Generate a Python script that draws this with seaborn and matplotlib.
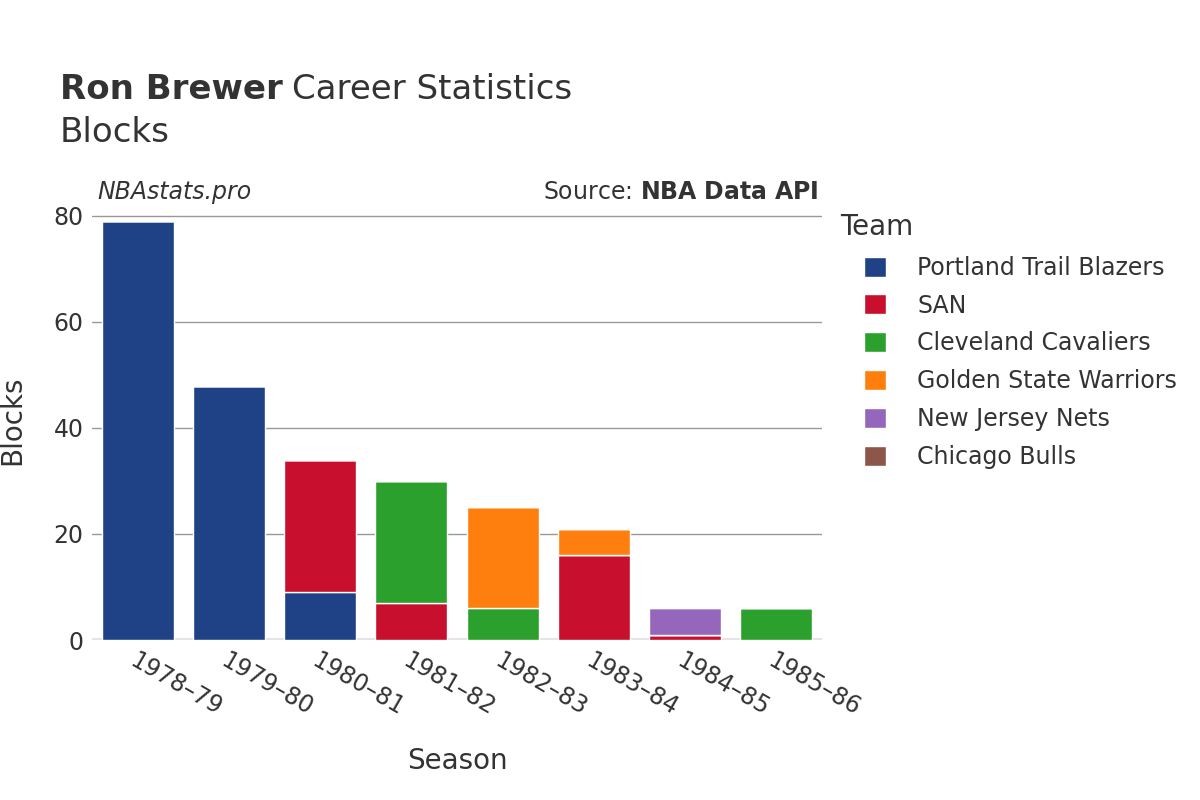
import numpy as np
import matplotlib.pyplot as plt
import seaborn as sns
from matplotlib.patches import Patch

seasons = ['1978–79', '1979–80', '1980–81', '1981–82', '1982–83', '1983–84', '1984–85', '1985–86']
teams = ['Portland Trail Blazers', 'SAN', 'Cleveland Cavaliers', 'Golden State Warriors',
         'New Jersey Nets', 'Chicago Bulls']
colors = ['#1f4287', '#c8102e', '#2ca02c', '#ff7f0e', '#9467bd', '#8c564b']

portland = [79, 48, 9, 0, 0, 0, 0, 0]
san = [0, 0, 25, 7, 0, 16, 1, 0]
cleveland = [0, 0, 0, 23, 6, 0, 0, 6]
golden_state = [0, 0, 0, 0, 19, 5, 0, 0]
new_jersey = [0, 0, 0, 0, 0, 0, 5, 0]
chicago = [0, 0, 0, 0, 0, 0, 0, 0]
series = [portland, san, cleveland, golden_state, new_jersey, chicago]

sns.set_style('white')
plt.rcParams['font.family'] = ['DejaVu Sans']
txt = '#333333'

fig = plt.figure(figsize=(12, 8), dpi=100)
ax = fig.add_axes([0.0767, 0.2, 0.6083, 0.55])

bottom = np.zeros(len(seasons))
for vals, col in zip(series, colors):
    sns.barplot(x=seasons, y=vals, bottom=bottom, color=col, width=0.79,
                edgecolor='white', linewidth=1, ax=ax, saturation=1)
    bottom += np.array(vals)

ax.set_ylim(0, 83)
ax.set_xlim(-0.5, len(seasons) - 0.5)
ax.set_yticks([0, 20, 40, 60, 80])
for y in [20, 40, 60, 80]:
    ax.axhline(y, color='#999999', lw=1, zorder=0)
ax.axhline(0, color='#e5e5e5', lw=3, zorder=0)
for s in ax.spines.values():
    s.set_visible(False)
ax.tick_params(axis='both', length=0, labelsize=17, colors=txt, pad=6)
plt.setp(ax.get_xticklabels(), rotation=-30, ha='left', rotation_mode='anchor')
ax.set_xlabel('Season', fontsize=20, color=txt, labelpad=19)
ax.set_ylabel('Blocks', fontsize=20, color=txt, labelpad=20)

t1 = fig.text(0.05, 0.888, 'Ron Brewer', fontsize=24.5, fontweight='bold', color=txt, va='center')
fig.canvas.draw()
bb = t1.get_window_extent()
fig.text((bb.x1 + 9) / 1200, 0.888, 'Career Statistics', fontsize=24.5, color=txt, va='center')
fig.text(0.05, 0.835, 'Blocks', fontsize=24.5, color=txt, va='center')
fig.text(0.081, 0.76, 'NBAstats.pro', fontsize=17, style='italic', color=txt, va='center')
fig.text(0.682, 0.76, 'Source: $\\mathbf{NBA\\ Data\\ API}$', fontsize=17, color=txt,
         va='center', ha='right')

# legend
fig.text(0.7, 1 - 227 / 800, 'Team', fontsize=20, color=txt, va='center')
handles = [Patch(facecolor=c, label=t) for t, c in zip(teams, colors)]
leg = fig.legend(handles=handles, loc='upper left', bbox_to_anchor=(0.706, 0.701),
                 frameon=False, fontsize=17, handlelength=0.93,
                 handleheight=0.93, handletextpad=1.33, labelspacing=0.585, borderpad=0.2)
for t in leg.get_texts():
    t.set_color(txt)

fig.savefig('out.png', dpi=100)
